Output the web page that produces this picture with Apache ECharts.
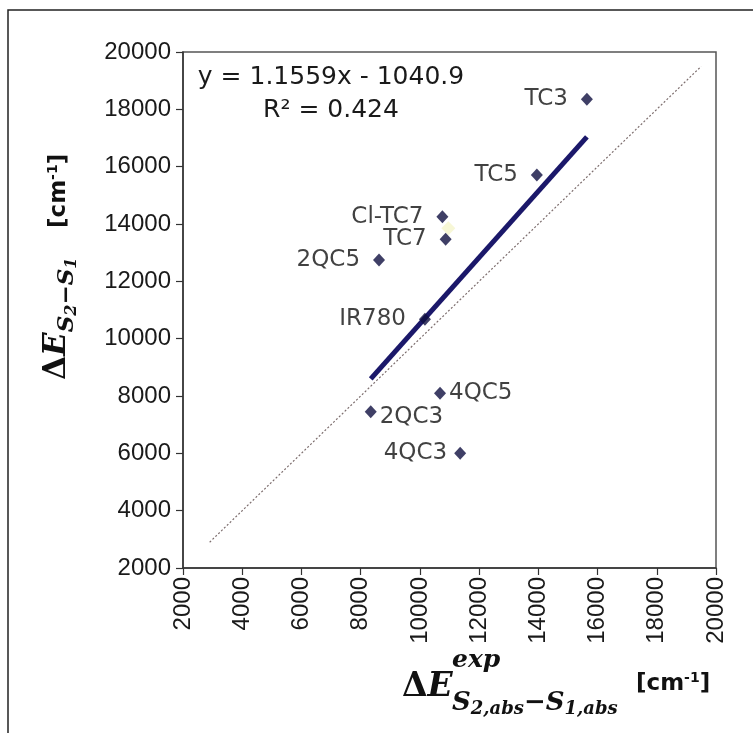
<!DOCTYPE html>
<html><head><meta charset="utf-8">
<script src="https://cdn.jsdelivr.net/npm/echarts@6/dist/echarts.min.js"></script>
<style>html,body{margin:0;padding:0;background:#fff}#c{width:753px;height:733px}</style>
</head><body><div id="c"></div>
<script>
// ---- data ----
const xTicks = [2000, 4000, 6000, 8000, 10000, 12000, 14000, 16000, 18000, 20000];
const yTicks = [2000, 4000, 6000, 8000, 10000, 12000, 14000, 16000, 18000, 20000];
const names   = ['TC3', 'TC5', 'Cl-TC7', 'TC7', '2QC5', 'IR780', '4QC5', '2QC3', '4QC3'];
const xValues = [15640, 13950, 10760, 10870, 8620, 10170, 10680, 8340, 11360];
const yValues = [18350, 15710, 14250, 13470, 12740, 10680, 8100, 7450, 6000];
const labelSide = ['left', 'left', 'left', 'left', 'left', 'left', 'right', 'right', 'left'];
const faintX = [10960];
const faintY = [13850];
const trendX = [8340, 15640];
const trendY = [8600, 17040];
const refX = [2900, 19500];
const refY = [2900, 19500];
const eqLine1 = 'y = 1.1559x - 1040.9';
const eqLine2 = 'R² = 0.424';

// ---- build ----
const pts = names.map((n, i) => {
  const side = labelSide[i];
  const lab = {position: side, distance: side === 'left' ? 13 : 3};
  if (n === '4QC3') lab.distance = 7;
  if (n === '2QC3') lab.offset = [0, 5];
  return {name: n, value: [xValues[i], yValues[i]], label: lab};
});
const trend = trendX.map((x, i) => [x, trendY[i]]);
const ref = refX.map((x, i) => [x, refY[i]]);
const faint = faintX.map((x, i) => [x, faintY[i]]);

const ctx = document.createElement('canvas').getContext('2d');
function run(pieces, ox, oy, rot) {
  let x = 0; const children = [];
  pieces.forEach(p => {
    ctx.font = p.font;
    const w = ctx.measureText(p.t).width;
    children.push({type: 'text', x: x, y: p.dy || 0,
      style: {text: p.t, font: p.font, fill: '#111', textAlign: 'left', textVerticalAlign: 'middle'}});
    x += w + (p.sp || 0);
  });
  return {type: 'group', x: ox, y: oy, rotation: rot || 0, children};
}
const serB = (s) => 'bold italic ' + s + 'px "DejaVu Serif"';
const serN = (s) => 'bold ' + s + 'px "DejaVu Serif"';
const sanB = (s) => 'bold ' + s + 'px "DejaVu Sans"';

const yTitle = run([
  {t: 'Δ', font: serN(31)}, {t: 'E', font: serB(31)},
  {t: 'S', font: serB(23), dy: 10}, {t: '2', font: serB(16), dy: 15},
  {t: '−', font: serN(23), dy: 10}, {t: 'S', font: serB(23), dy: 10}, {t: '1', font: serB(16), dy: 15}
], 57, 380, Math.PI / 2);
const yUnit = run([
  {t: '[cm', font: sanB(23)}, {t: '-1', font: sanB(14), dy: -6}, {t: ']', font: sanB(23)}
], 59, 228, Math.PI / 2);

const xTitle = run([
  {t: 'Δ', font: serN(33)}, {t: 'E', font: serB(33)}
], 402, 687, 0);
const xSup = run([{t: 'exp', font: serB(25)}], 452, 660, 0);
const xSub = run([
  {t: 'S', font: serB(26)}, {t: '2,abs', font: serB(18), dy: 6},
  {t: '−', font: serN(26)}, {t: 'S', font: serB(26)}, {t: '1,abs', font: serB(18), dy: 6}
], 452, 703, 0);
const xUnit = run([
  {t: '[cm', font: sanB(23)}, {t: '-1', font: sanB(14), dy: -6}, {t: ']', font: sanB(23)}
], 636, 684, 0);

const chart = echarts.init(document.getElementById('c'), null, {renderer: 'canvas'});
const axisCommon = {
  type: 'value', min: 2000, max: 20000, interval: 2000,
  axisLine: {show: true, lineStyle: {color: '#333', width: 1.5}},
  axisTick: {show: true, inside: false, length: 7, lineStyle: {color: '#333', width: 1.2}},
  splitLine: {show: false},
  axisLabel: {color: '#1a1a1a', fontFamily: 'Liberation Sans', fontSize: 24, margin: 9}
};
chart.setOption({
  animation: false,
  backgroundColor: '#fff',
  grid: {left: 183, top: 52, width: 533, height: 516, show: true, borderColor: '#555', borderWidth: 1.5},
  xAxis: Object.assign({}, axisCommon, {axisLabel: Object.assign({}, axisCommon.axisLabel, {rotate: 90,
    formatter: v => xTicks.includes(v) ? String(v) : ''})}),
  yAxis: Object.assign({}, axisCommon, {axisLabel: Object.assign({}, axisCommon.axisLabel, {margin: 12,
    formatter: v => yTicks.includes(v) ? String(v) : ''})}),
  series: [
    {type: 'line', data: ref, symbol: 'none', z: 1,
      lineStyle: {color: '#7d6e6e', width: 1.2, type: [2, 2]}},
    {type: 'line', data: trend, symbol: 'none', z: 2,
      lineStyle: {color: '#1b186a', width: 5}},
    {type: 'scatter', data: faint, symbol: 'diamond', symbolSize: 14, z: 3,
      itemStyle: {color: 'rgba(238,238,170,0.6)'}},
    {type: 'scatter', data: pts, symbol: 'diamond', symbolSize: [12, 13], z: 4,
      itemStyle: {color: '#0f0f40'},
      label: {show: true, formatter: p => p.name, color: '#111', fontFamily: 'DejaVu Sans', fontSize: 23}}
  ],
  graphic: [
    {type: 'rect', shape: {x: 8, y: 10, width: 900, height: 900}, style: {fill: 'none', stroke: '#222', lineWidth: 1.5}, silent: true},
    {type: 'text', x: 331, y: 77, style: {text: eqLine1, font: '25px "DejaVu Sans"', fill: '#1a1a1a', textAlign: 'center', textVerticalAlign: 'middle'}},
    {type: 'text', x: 331, y: 110, style: {text: eqLine2, font: '25px "DejaVu Sans"', fill: '#1a1a1a', textAlign: 'center', textVerticalAlign: 'middle'}},
    yTitle, yUnit, xTitle, xSup, xSub, xUnit
  ]
});
</script></body></html>
